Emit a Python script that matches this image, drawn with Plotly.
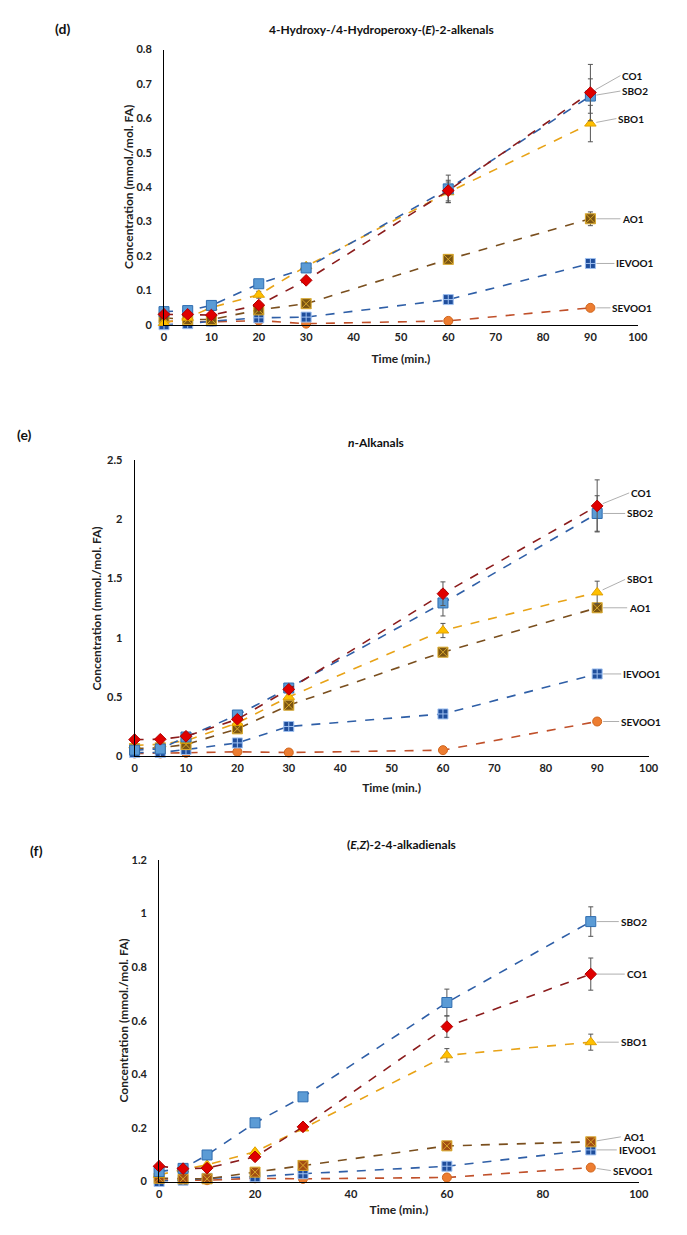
import plotly.graph_objects as go

# ---------------- data ----------------
times = [0, 5, 10, 20, 30, 60, 90]
series = ["SEVOO1", "IEVOO1", "AO1", "SBO1", "SBO2", "CO1"]

# (d) 4-Hydroxy-/4-Hydroperoxy-(E)-2-alkenals
d_SBO2 = [0.038, 0.041, 0.056, 0.119, 0.165, 0.395, 0.665]
d_CO1 = [0.030, 0.030, 0.028, 0.057, 0.129, 0.390, 0.675]
d_SBO1 = [0.005, 0.020, 0.050, 0.087, 0.170, 0.385, 0.585]
d_AO1 = [0.020, 0.015, 0.015, 0.043, 0.061, 0.190, 0.308]
d_IEVOO1 = [0.000, 0.003, 0.010, 0.020, 0.022, 0.073, 0.178]
d_SEVOO1 = [0.010, 0.008, 0.008, 0.012, 0.003, 0.011, 0.049]
d_SBO2_err = [0.004, 0.004, 0.004, 0.005, 0.005, 0.040, 0.050]
d_CO1_err = [0.003, 0.003, 0.003, 0.004, 0.005, 0.030, 0.082]
d_SBO1_err = [0.002, 0.003, 0.004, 0.010, 0.005, 0.030, 0.053]
d_AO1_err = [0.002, 0.002, 0.002, 0.003, 0.004, 0.006, 0.020]
d_IEVOO1_err = [0.001, 0.001, 0.001, 0.002, 0.002, 0.004, 0.008]
d_SEVOO1_err = [0.001, 0.001, 0.001, 0.001, 0.001, 0.002, 0.004]

# (e) n-Alkanals
e_SBO2 = [0.050, 0.060, 0.161, 0.347, 0.575, 1.294, 2.050]
e_CO1 = [0.139, 0.142, 0.167, 0.311, 0.564, 1.372, 2.114]
e_SBO1 = [0.090, 0.100, 0.130, 0.280, 0.500, 1.061, 1.383]
e_AO1 = [0.064, 0.070, 0.097, 0.230, 0.430, 0.878, 1.253]
e_IEVOO1 = [0.030, 0.030, 0.055, 0.111, 0.250, 0.356, 0.694]
e_SEVOO1 = [0.022, 0.022, 0.028, 0.036, 0.030, 0.050, 0.292]
e_SBO2_err = [0.005, 0.005, 0.008, 0.010, 0.015, 0.110, 0.150]
e_CO1_err = [0.005, 0.005, 0.008, 0.010, 0.015, 0.100, 0.220]
e_SBO1_err = [0.005, 0.005, 0.005, 0.010, 0.015, 0.060, 0.095]
e_AO1_err = [0.004, 0.004, 0.005, 0.008, 0.010, 0.015, 0.030]
e_IEVOO1_err = [0.002, 0.002, 0.003, 0.005, 0.008, 0.010, 0.015]
e_SEVOO1_err = [0.002, 0.002, 0.002, 0.003, 0.003, 0.004, 0.010]

# (f) (E,Z)-2-4-alkadienals
f_SBO2 = [0.037, 0.049, 0.099, 0.219, 0.316, 0.668, 0.970]
f_CO1 = [0.057, 0.048, 0.050, 0.092, 0.204, 0.578, 0.774]
f_SBO1 = [0.025, 0.045, 0.062, 0.111, 0.198, 0.471, 0.520]
f_AO1 = [0.012, 0.010, 0.010, 0.035, 0.060, 0.133, 0.148]
f_IEVOO1 = [0.000, 0.005, 0.012, 0.018, 0.029, 0.057, 0.118]
f_SEVOO1 = [0.005, 0.005, 0.005, 0.012, 0.010, 0.015, 0.052]
f_SBO2_err = [0.003, 0.003, 0.005, 0.008, 0.010, 0.050, 0.055]
f_CO1_err = [0.003, 0.003, 0.004, 0.006, 0.010, 0.040, 0.060]
f_SBO1_err = [0.002, 0.003, 0.004, 0.006, 0.008, 0.025, 0.030]
f_AO1_err = [0.002, 0.002, 0.002, 0.003, 0.004, 0.006, 0.008]
f_IEVOO1_err = [0.001, 0.001, 0.001, 0.002, 0.002, 0.004, 0.006]
f_SEVOO1_err = [0.001, 0.001, 0.001, 0.001, 0.001, 0.002, 0.004]

panels = [
    dict(tag="(d)", title="4-Hydroxy-/4-Hydroperoxy-(<i>E</i>)-2-alkenals",
         data={"SBO2": (d_SBO2, d_SBO2_err), "CO1": (d_CO1, d_CO1_err), "SBO1": (d_SBO1, d_SBO1_err),
               "AO1": (d_AO1, d_AO1_err), "IEVOO1": (d_IEVOO1, d_IEVOO1_err), "SEVOO1": (d_SEVOO1, d_SEVOO1_err)},
         yrange=[0, 0.8], ydtick=0.1, xdtick=10),
    dict(tag="(e)", title="<i>n</i>-Alkanals",
         data={"SBO2": (e_SBO2, e_SBO2_err), "CO1": (e_CO1, e_CO1_err), "SBO1": (e_SBO1, e_SBO1_err),
               "AO1": (e_AO1, e_AO1_err), "IEVOO1": (e_IEVOO1, e_IEVOO1_err), "SEVOO1": (e_SEVOO1, e_SEVOO1_err)},
         yrange=[0, 2.5], ydtick=0.5, xdtick=10),
    dict(tag="(f)", title="(<i>E,Z</i>)-2-4-alkadienals",
         data={"SBO2": (f_SBO2, f_SBO2_err), "CO1": (f_CO1, f_CO1_err), "SBO1": (f_SBO1, f_SBO1_err),
               "AO1": (f_AO1, f_AO1_err), "IEVOO1": (f_IEVOO1, f_IEVOO1_err), "SEVOO1": (f_SEVOO1, f_SEVOO1_err)},
         yrange=[0, 1.2], ydtick=0.2, xdtick=20),
]

# ---------------- layout (page pixel targets) ----------------
OFF = 8                      # default body margin of the html page
FW, FH = 687 - OFF, 1235 - OFF


def px(xp):
    return (xp - OFF) / FW


def py(yp):
    return (FH - (yp - OFF)) / FH


# x at 0, x at 100, y at zero, y at top
geom = [
    (164, 647, 321, 43),
    (134, 658, 757, 458),
    (159, 648, 1187, 862),
]
tag_pos = [(60, 22), (22, 432), (34, 852)]
title_pos = [(386, 23), (380, 440), (406, 846)]
ytitle_x = [127, 95, 123]
xtitle_standoff = [12, 10, 6]

styles = {
    "SBO2": dict(symbol="square", size=10, fill="#5b9bd5", edge="#2f6db0", line="#2f5fa7"),
    "CO1": dict(symbol="diamond", size=9, fill="#e00000", edge="#b00000", line="#8b1c1c"),
    "SBO1": dict(symbol="triangle-up", size=10, fill="#ffc000", edge="#e0a000", line="#e8a317"),
    "AO1": dict(symbol="square-x", size=10, fill="#7b5512", edge="#d9a82b", line="#7a4f1e"),
    "IEVOO1": dict(symbol="square-cross", size=10, fill="#1f4e9c", edge="#9fc0f0", line="#2f5fa7"),
    "SEVOO1": dict(symbol="circle", size=9, fill="#ed7d31", edge="#d0651c", line="#c0502a"),
}
ao1_fill_f = "#a24d14"

# label offsets (px) from the 90-min point: (dx, dy)
label_off = [
    {"CO1": (30, -17), "SBO2": (30, -5), "SBO1": (26, -5), "AO1": (30, 0), "IEVOO1": (24, 0), "SEVOO1": (20, 0)},
    {"CO1": (32, -13), "SBO2": (28, 0), "SBO1": (28, -13), "AO1": (30, 0), "IEVOO1": (24, 0), "SEVOO1": (22, 0)},
    {"SBO2": (28, 0), "CO1": (34, 0), "SBO1": (28, 0), "AO1": (30, -5), "IEVOO1": (26, 0), "SEVOO1": (20, 3)},
]

FONT = "Lato, 'Open Sans', sans-serif"
TXT = "#222222"

fig = go.Figure()
annotations = []
layout = {}

for i, p in enumerate(panels):
    n = "" if i == 0 else str(i + 1)
    xa, ya = "x" + n, "y" + n
    x0, x100, yz, yt = geom[i]
    for s in series:
        vals, err = p["data"][s]
        st = styles[s]
        fill = ao1_fill_f if (s == "AO1" and i == 2) else st["fill"]
        fig.add_trace(go.Scatter(
            x=times, y=vals, mode="lines+markers", name=s, showlegend=False,
            xaxis=xa, yaxis=ya, cliponaxis=False,
            line=dict(color=st["line"], width=1.6, dash="dash"),
            marker=dict(symbol=st["symbol"], size=st["size"], color=fill,
                        line=dict(color=st["edge"], width=1)),
            error_y=dict(type="data", array=err, visible=True, color="#555555",
                         thickness=1, width=2.5),
        ))
        dx, dy = label_off[i][s]
        annotations.append(dict(
            x=times[-1], y=vals[-1], xref=xa, yref=ya, text=s, showarrow=True,
            arrowhead=0, arrowwidth=0.8, arrowcolor="#9a9a9a", ax=dx, ay=dy,
            xanchor="left", yanchor="middle", standoff=6,
            font=dict(family=FONT, size=10, color="#111111", weight="bold"),
        ))
    layout["xaxis" + n] = dict(
        domain=[px(x0), px(x100)], range=[0, 100], dtick=p["xdtick"], anchor=ya,
        showline=True, linecolor="#000000", linewidth=1, showgrid=False, zeroline=False,
        ticks="", ticklabelstandoff=2,
        tickfont=dict(family=FONT, size=11, color=TXT, weight="bold"),
        title=dict(text="Time (min.)", standoff=xtitle_standoff[i],
                   font=dict(family=FONT, size=12, color=TXT, weight="bold")),
    )
    layout["yaxis" + n] = dict(
        domain=[py(yz), py(yt)], range=p["yrange"], dtick=p["ydtick"], anchor=xa,
        showline=True, linecolor="#000000", linewidth=1, showgrid=False, zeroline=False,
        ticks="", ticklabelstandoff=9,
        tickfont=dict(family=FONT, size=11, color=TXT, weight="bold"),
    )
    annotations.append(dict(
        x=px(ytitle_x[i]), y=py((yz + yt) / 2), xref="paper", yref="paper",
        xanchor="center", yanchor="middle",
        text="Concentration (mmol./mol. FA)", textangle=-90, showarrow=False,
        font=dict(family=FONT, size=12, color=TXT, weight="bold"),
    ))
    tx, ty = tag_pos[i]
    annotations.append(dict(x=px(tx), y=py(ty), xref="paper", yref="paper",
                            xanchor="center", yanchor="middle",
                            text=p["tag"], showarrow=False,
                            font=dict(family=FONT, size=14, color="#111111", weight="bold")))
    tx, ty = title_pos[i]
    annotations.append(dict(x=px(tx), y=py(ty), xref="paper", yref="paper",
                            xanchor="center", yanchor="middle",
                            text=p["title"], showarrow=False,
                            font=dict(family=FONT, size=12, color="#111111", weight="bold")))

fig.update_layout(
    width=FW, height=FH, margin=dict(l=0, r=0, t=0, b=0),
    paper_bgcolor="white", plot_bgcolor="white",
    annotations=annotations, font=dict(family=FONT),
    **layout,
)
fig.write_html("out.html")
